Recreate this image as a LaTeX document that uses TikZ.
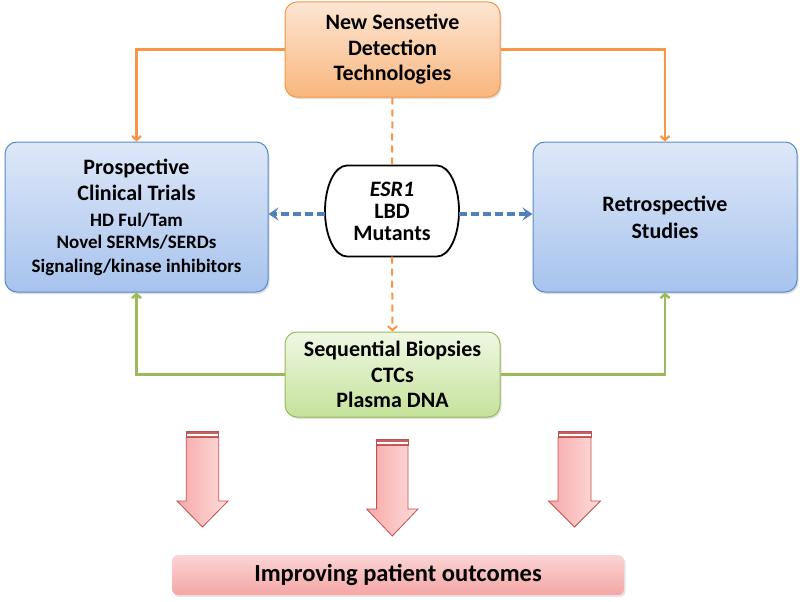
\documentclass[tikz,border=0pt]{standalone}
\usepackage{fontspec}
\setmainfont{Carlito}
\usetikzlibrary{arrows.meta,shadows,calc}
\definecolor{orline}{HTML}{F79646}
\definecolor{ortop}{HTML}{FDE6D3}
\definecolor{orbot}{HTML}{F9B67E}
\definecolor{blline}{HTML}{5B8ACB}
\definecolor{bltop}{HTML}{DEE8F8}
\definecolor{blbot}{HTML}{A7C3EE}
\definecolor{grline}{HTML}{9BBB59}
\definecolor{grtop}{HTML}{EFF8E4}
\definecolor{grbot}{HTML}{C4E29A}
\definecolor{dash}{HTML}{4F81BD}
\definecolor{redline}{HTML}{C0504D}
\definecolor{pinkL}{HTML}{F6A9A9}
\definecolor{pinkR}{HTML}{FFDCDC}
\definecolor{bartop}{HTML}{FBD4D4}
\definecolor{barbot}{HTML}{F4A6A6}
\tikzset{
  boxbase/.style={rounded corners=12pt, align=center,
    font=\fontsize{22}{25.5}\selectfont\bfseries,
    drop shadow={opacity=0.25, shadow xshift=1.5pt, shadow yshift=-2pt}},
  orbox/.style={boxbase, draw=orline, line width=1pt, top color=ortop, bottom color=orbot,
    minimum width=215pt, minimum height=95pt},
  blbox/.style={boxbase, draw=blline, line width=1pt, top color=bltop, bottom color=blbot,
    minimum width=263pt, minimum height=150pt},
  grbox/.style={boxbase, draw=grline, line width=1pt, top color=grtop, bottom color=grbot,
    minimum width=215pt, minimum height=85pt},
  ovaltext/.style={minimum width=134pt, minimum height=91pt, align=center,
    font=\fontsize{22}{22}\selectfont\bfseries, inner sep=0pt},
  ovalline/.style={draw=black, line width=1.8pt, fill=white},
  barbox/.style={rounded corners=6pt, top color=bartop, bottom color=barbot,
    minimum width=452pt, minimum height=40pt, font=\fontsize{24.5}{28}\selectfont\bfseries,
    drop shadow={opacity=0.2, shadow xshift=1.5pt, shadow yshift=-2pt}},
  orconn/.style={draw=orline, line width=2.2pt, -{Straight Barb[length=4pt,width=9pt]}},
  ordash/.style={draw=orline, line width=2pt, dash pattern=on 7pt off 5pt},
  grconn/.style={draw=grline, line width=2.5pt, -{Straight Barb[length=4pt,width=9pt]}},
  blconn/.style={draw=dash, line width=3.5pt, dash pattern=on 8pt off 4pt,
    -{Stealth[length=10pt,width=13pt,inset=4pt]}},
  barrow/.style={draw=redline, line width=0.8pt, left color=pinkL, right color=pinkR},
  bband/.style={fill=redline!90, draw=none}
}
\newcommand\blockarr[6]{% xc, top, headstart, tip, shafthalf, headhalf
  \fill[bband] (#1-#5,#2) rectangle (#1+#5,#2+3.3);
  \fill[bband] (#1-#5,#2+4.8) rectangle (#1+#5,#2+6.5);
  \path[barrow] (#1-#5,#2+6.5) -- (#1+#5,#2+6.5) -- (#1+#5,#3) -- (#1+#6,#3)
    -- (#1,#4) -- (#1-#6,#3) -- (#1-#5,#3) -- cycle;
  \draw[redline, line width=0.8pt] (#1-#5,#2) rectangle (#1+#5,#2+6.5);
}
\newcommand\smallln[1]{{\fontsize{19}{20}\selectfont #1}}
\begin{document}
\begin{tikzpicture}[x=1pt,y=-1pt]
\useasboundingbox[fill=white] (0,0) rectangle (800,602);

\node[orbox] (top) at (392.5,49.5) {New Sensetive\\Detection\\Technologies};
\node[blbox, font=\fontsize{22}{26.5}\selectfont\bfseries] (left) at (136.5,217)
  {Prospective\\Clinical Trials\\[-1pt]
   \smallln{HD Ful/Tam}\\[-4pt]\smallln{Novel SERMs/SERDs}\\[-3pt]\smallln{Signaling/kinase inhibitors}};
\node[blbox, minimum width=264pt, font=\fontsize{22}{27}\selectfont\bfseries] (right) at (665,217)
  {Retrospective\\Studies};

% ESR1 oval: elliptic-ended outline, then its text node
\coordinate (oc) at (392,211);
\path[ovalline] ($(oc)+(-45,-45.5)$) -- ($(oc)+(45,-45.5)$)
  arc[start angle=90, end angle=-90, x radius=22pt, y radius=45.5pt]
  -- ($(oc)+(-45,45.5)$)
  arc[start angle=270, end angle=90, x radius=22pt, y radius=45.5pt] -- cycle;
\node[ovaltext] (oval) at (oc) {\textit{ESR1}\\LBD\\Mutants};

\node[grbox] (green) at (392.5,374.5) {Sequential Biopsies\\CTCs\\Plasma DNA};
\node[barbox] (bar) at (398,575) {Improving patient outcomes};

% orange connectors
\draw[orconn] (top.west) -| (left.north);
\draw[orconn] (top.east) -| (right.north);
\draw[ordash] (top.south) -- (oval.north);
\draw[ordash, -{Straight Barb[length=4pt,width=9pt]}] (oval.south) -- (green.north);

% green connectors
\draw[grconn] (green.west) -| (left.south);
\draw[grconn] (green.east) -| (right.south);

% blue dashed arrows
\coordinate (aL) at ($(oval.west)+(0.5,3)$);
\coordinate (aR) at ($(oval.east)+(-0.5,3)$);
\draw[blconn] (aL) -- (aL -| left.east);
\draw[blconn] (aR) -- (aR -| right.west);

% block arrows
\blockarr{202.5}{431}{501}{527}{16.2}{25.5}
\blockarr{392.3}{439}{509}{536}{15.7}{25.7}
\blockarr{574.5}{431}{501}{527}{16.5}{26}
\end{tikzpicture}
\end{document}
